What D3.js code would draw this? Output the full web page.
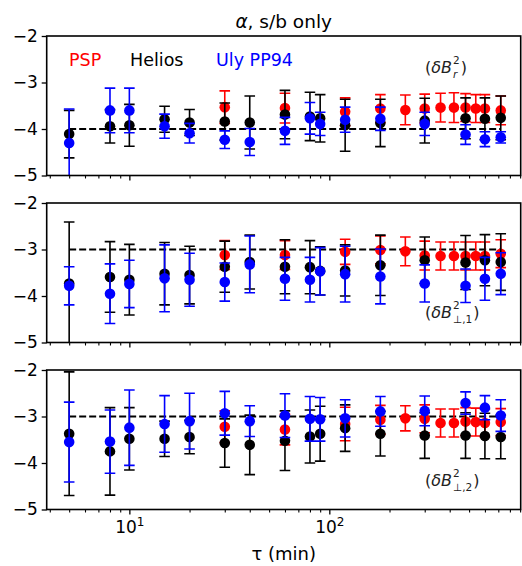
<!DOCTYPE html>
<html>
<head>
<meta charset="utf-8">
<script src="https://cdn.jsdelivr.net/npm/d3@7"></script>
<style>
  body { margin: 0; background: #fff; }
  text { font-family: "DejaVu Sans", sans-serif; }
</style>
</head>
<body>
<svg id="chart" width="522" height="566"></svg>
<script>
// time lags (min)
const tauHU = [5, 8, 10, 15, 20, 30, 40, 60, 80, 90, 120, 180, 300, 480, 600, 720];
const tauPSP = [30, 60, 120, 180, 240, 300, 360, 420, 480, 540, 600, 720];

// panel 1: dB_r^2
const pspR = [-3.53, -3.55, -3.63, -3.56, -3.59, -3.56, -3.54, -3.54, -3.54, -3.56, -3.56, -3.60];
const pspRErr = [0.35, 0.32, 0.30, 0.30, 0.32, 0.31, 0.31, 0.32, 0.30, 0.30, 0.30, 0.31];
const heliosR = [-4.11, -3.94, -3.92, -3.79, -3.86, -3.84, -3.86, -3.69, -3.73, -3.77, -3.92, -3.87, -3.82, -3.77, -3.78, -3.76];
const heliosRErr = [0.51, 0.36, 0.45, 0.28, 0.28, 0.40, 0.57, 0.52, 0.52, 0.51, 0.56, 0.51, 0.48, 0.44, 0.45, 0.47];
const ulyR = [-4.30, -3.60, -3.60, -3.94, -4.09, -4.23, -4.28, -4.04, -3.77, -3.89, -3.80, -3.78, -3.89, -4.12, -4.22, -4.18];
const ulyRErr = [0.73, 0.48, 0.48, 0.26, 0.21, 0.19, 0.29, 0.29, 0.34, 0.25, 0.27, 0.25, 0.25, 0.21, 0.16, 0.12];

// panel 2: dB_perp,1^2
const pspP1 = [-3.12, -3.12, -3.05, -3.01, -3.04, -3.13, -3.14, -3.14, -3.14, -3.14, -3.14, -3.09];
const pspP1Err = [0.31, 0.31, 0.27, 0.30, 0.31, 0.31, 0.30, 0.30, 0.30, 0.30, 0.30, 0.30];
const heliosP1 = [-3.73, -3.59, -3.65, -3.52, -3.55, -3.37, -3.27, -3.37, -3.38, -3.46, -3.45, -3.34, -3.23, -3.28, -3.23, -3.27];
const heliosP1Err = [1.32, 0.76, 0.76, 0.67, 0.62, 0.55, 0.58, 0.58, 0.57, 0.52, 0.55, 0.65, 0.50, 0.58, 0.55, 0.61];
const ulyP1 = [-3.78, -3.95, -3.74, -3.62, -3.65, -3.70, -3.32, -3.63, -3.65, -3.47, -3.53, -3.58, -3.73, -3.78, -3.63, -3.52];
const ulyP1Err = [0.41, 0.64, 0.51, 0.72, 0.57, 0.41, 0.61, 0.46, 0.48, 0.51, 0.60, 0.59, 0.40, 0.36, 0.46, 0.45];

// panel 3: dB_perp,2^2
const pspP2 = [-3.22, -3.28, -3.16, -3.07, -3.04, -3.05, -3.14, -3.14, -3.11, -3.12, -3.14, -3.12];
const pspP2Err = [0.34, 0.33, 0.36, 0.31, 0.27, 0.30, 0.30, 0.30, 0.30, 0.30, 0.30, 0.29];
const heliosP2 = [-3.37, -3.75, -3.48, -3.48, -3.44, -3.57, -3.61, -3.52, -3.43, -3.37, -3.25, -3.37, -3.41, -3.41, -3.42, -3.44];
const heliosP2Err = [1.33, 0.94, 0.67, 0.38, 0.36, 0.52, 0.64, 0.64, 0.57, 0.59, 0.50, 0.48, 0.49, 0.49, 0.49, 0.47];
const ulyP2 = [-3.55, -3.54, -3.24, -3.16, -3.10, -2.93, -3.10, -2.98, -3.05, -3.06, -3.04, -2.89, -2.88, -2.71, -2.81, -2.98];
const ulyP2Err = [0.86, 0.68, 0.81, 0.61, 0.60, 0.47, 0.33, 0.47, 0.48, 0.47, 0.40, 0.32, 0.32, 0.24, 0.26, 0.34];

const refLevels = [-4, -3, -3];
const quantitySubs = ["r", "⊥,1", "⊥,2"];
const yTicks = [-2, -3, -4, -5];
const xMajor = [10, 100];
const xMinor = [4, 5, 6, 7, 8, 9, 20, 30, 40, 50, 60, 70, 80, 90, 200, 300, 400, 500, 600, 700, 800, 900];

const series = [
  { name: "PSP", color: "#ff0000", tau: tauPSP, vals: [pspR, pspP1, pspP2], errs: [pspRErr, pspP1Err, pspP2Err] },
  { name: "Helios", color: "#000000", tau: tauHU, vals: [heliosR, heliosP1, heliosP2], errs: [heliosRErr, heliosP1Err, heliosP2Err] },
  { name: "Uly PP94", color: "#0000ff", tau: tauHU, vals: [ulyR, ulyP1, ulyP2], errs: [ulyRErr, ulyP1Err, ulyP2Err] }
];

const left = 46.7, right = 520.7;
const panelTop = [36, 203, 370];
const panelH = 139.5;
const annY = [37, 115, 116];

const svg = d3.select("#chart");
const x = d3.scaleLog().domain([3.86, 906]).range([left, right]);
const minus = d => String(d).replace("-", "\u2212");

panelTop.forEach((top, p) => {
  const y = d3.scaleLinear().domain([-5, -2]).range([top + panelH, top]);
  const g = svg.append("g");

  g.append("clipPath").attr("id", "clip" + p)
    .append("rect").attr("x", left).attr("y", top).attr("width", right - left).attr("height", panelH);

  const plot = g.append("g").attr("clip-path", `url(#clip${p})`);

  // reference level
  plot.append("line")
    .attr("x1", x(5)).attr("x2", x(720))
    .attr("y1", y(refLevels[p])).attr("y2", y(refLevels[p]))
    .attr("stroke", "#000").attr("stroke-width", 1.9)
    .attr("stroke-dasharray", "7,3");

  series.forEach(s => {
    const rows = s.tau.map((t, i) => ({ t, v: s.vals[p][i], e: s.errs[p][i] }));
    const sg = plot.append("g").attr("stroke", s.color).attr("stroke-width", 1.6);
    sg.selectAll("line.bar").data(rows).join("line").attr("class", "bar")
      .attr("x1", d => x(d.t)).attr("x2", d => x(d.t))
      .attr("y1", d => y(d.v - d.e)).attr("y2", d => y(d.v + d.e));
    sg.selectAll("line.capT").data(rows).join("line").attr("class", "capT")
      .attr("x1", d => x(d.t) - 5.3).attr("x2", d => x(d.t) + 5.3)
      .attr("y1", d => y(d.v + d.e)).attr("y2", d => y(d.v + d.e));
    sg.selectAll("line.capB").data(rows).join("line").attr("class", "capB")
      .attr("x1", d => x(d.t) - 5.3).attr("x2", d => x(d.t) + 5.3)
      .attr("y1", d => y(d.v - d.e)).attr("y2", d => y(d.v - d.e));
    plot.append("g").selectAll("circle").data(rows).join("circle")
      .attr("cx", d => x(d.t)).attr("cy", d => y(d.v))
      .attr("r", 5.3).attr("fill", s.color);
  });

  // axes
  const yAxis = g.append("g").attr("transform", `translate(${left},0)`)
    .call(d3.axisLeft(y).tickValues(yTicks).tickFormat(minus).tickSize(5).tickPadding(4));
  yAxis.select(".domain").remove();
  yAxis.selectAll("line").attr("stroke-width", 1.3);
  yAxis.selectAll("text").attr("font-size", 17).attr("font-family", "DejaVu Sans").attr("fill", "#000");

  const xAxis = g.append("g").attr("transform", `translate(0,${top + panelH})`)
    .call(d3.axisBottom(x).tickValues(xMajor).tickSize(5).tickPadding(6).tickFormat(() => ""));
  xAxis.select(".domain").remove();
  xAxis.selectAll("line").attr("stroke-width", 1.3);
  if (p === 2) {
    const lbl = xAxis.selectAll("text").attr("font-size", 17).attr("font-family", "DejaVu Sans").attr("fill", "#000");
    lbl.append("tspan").text("10");
    lbl.append("tspan").attr("dy", -7).attr("font-size", 12).text(d => Math.round(Math.log10(d)));
  }

  const xMinorAxis = g.append("g").attr("transform", `translate(0,${top + panelH})`)
    .call(d3.axisBottom(x).tickValues(xMinor).tickSize(3).tickFormat(() => ""));
  xMinorAxis.select(".domain").remove();
  xMinorAxis.selectAll("line").attr("stroke-width", 1.1);

  // frame
  g.append("rect").attr("x", left).attr("y", top).attr("width", right - left).attr("height", panelH)
    .attr("fill", "none").attr("stroke", "#000").attr("stroke-width", 1.6);

  // quantity label, stacked sup/sub in one text element
  const lab = g.append("text").attr("x", 425).attr("y", top + annY[p]).attr("font-size", 16).attr("fill", "#222");
  lab.append("tspan").text("(");
  lab.append("tspan").attr("font-style", "italic").text("δB");
  const sup = lab.append("tspan").attr("font-size", 10.5).attr("dx", 1).attr("dy", -9).text("2");
  const supW = sup.node().getComputedTextLength();
  const sub = lab.append("tspan").attr("font-size", 10.5).attr("dx", -supW).attr("dy", 13.5)
    .attr("font-style", p === 0 ? "italic" : "normal").text(quantitySubs[p]);
  const subW = sub.node().getComputedTextLength();
  lab.append("tspan").attr("dx", Math.max(0, supW - subW) + 1).attr("dy", -4.5).text(")");
});

// legend labels
const legendX = [69, 130, 216];
series.forEach((s, i) => {
  svg.append("text").attr("x", legendX[i]).attr("y", 66)
    .attr("font-size", 17.5).attr("fill", s.color).text(s.name);
});

// title
const title = svg.append("text").attr("x", (left + right) / 2).attr("y", 28)
  .attr("text-anchor", "middle").attr("font-size", 18.5);
title.append("tspan").attr("font-style", "italic").text("α");
title.append("tspan").text(", s/b only");

// x label
svg.append("text").attr("x", (left + right) / 2).attr("y", 560)
  .attr("text-anchor", "middle").attr("font-size", 18).text("τ (min)");
</script>
</body>
</html>
